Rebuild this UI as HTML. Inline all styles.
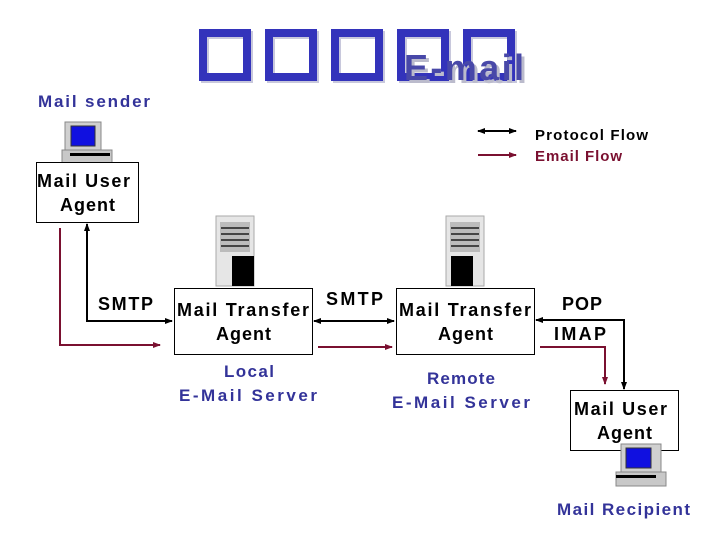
<!DOCTYPE html>
<html><head><meta charset="utf-8"><style>
html,body{margin:0;padding:0;background:#fff;width:720px;height:540px;overflow:hidden}
text{font-family:"Liberation Sans",sans-serif;font-weight:bold}
</style></head><body>
<svg width="720" height="540" viewBox="0 0 720 540" xmlns="http://www.w3.org/2000/svg">
<defs>
<marker id="ab" markerWidth="8" markerHeight="8" refX="7" refY="4" orient="auto-start-reverse" markerUnits="userSpaceOnUse"><path d="M0,1 L8,4 L0,7z" fill="#000"/></marker>
<marker id="ar" markerWidth="8" markerHeight="8" refX="7" refY="4" orient="auto" markerUnits="userSpaceOnUse"><path d="M0,1 L8,4 L0,7z" fill="#7a1030"/></marker>
</defs>
<g fill="none" stroke="#c8c8dc" stroke-width="8">
<rect x="205" y="35" width="44" height="44"/><rect x="271" y="35" width="44" height="44"/><rect x="337" y="35" width="44" height="44"/><rect x="403" y="35" width="44" height="44"/><rect x="469" y="35" width="44" height="44"/>
</g>
<g fill="none" stroke="#3333bb" stroke-width="8">
<rect x="203" y="33" width="44" height="44"/><rect x="269" y="33" width="44" height="44"/><rect x="335" y="33" width="44" height="44"/><rect x="401" y="33" width="44" height="44"/><rect x="467" y="33" width="44" height="44"/>
</g>
<text x="407" y="83" font-family="Liberation Serif" font-weight="bold" font-size="36" fill="#bbbbcc" textLength="120">E-mail</text>
<text x="404" y="80" font-family="Liberation Serif" font-weight="bold" font-size="36" fill="#4848a8" textLength="120">E-mail</text>

<text x="38" y="107" font-size="17" fill="#333399" textLength="112">Mail sender</text>
<line x1="478" y1="131" x2="516" y2="131" stroke="#000" stroke-width="2" marker-end="url(#ab)" marker-start="url(#ab)"/>
<line x1="478" y1="155" x2="516" y2="155" stroke="#7a1030" stroke-width="2" marker-end="url(#ar)"/>
<text x="535" y="140" font-size="15" font-weight="normal" fill="#000" textLength="113">Protocol Flow</text>
<text x="535" y="161" font-size="15" font-weight="normal" fill="#7a1030" textLength="87">Email Flow</text>

<g transform="translate(60,120)">
<rect x="5" y="2" width="36" height="30" fill="#d0d0d0" stroke="#888"/>
<rect x="11" y="6" width="24" height="20" fill="#1010e0" stroke="#333"/>
<rect x="2" y="30" width="50" height="14" fill="#c8c8c8" stroke="#888"/>
<rect x="10" y="33" width="40" height="3" fill="#000"/>
</g>
<rect x="36.5" y="162.5" width="102" height="60" fill="#fff" stroke="#000"/>
<text x="37" y="187" font-size="18" textLength="93">Mail User</text>
<text x="60" y="211" font-size="18" textLength="55">Agent</text>

<g transform="translate(216,216)">
<rect x="0" y="0" width="38" height="70" fill="#e6e6e6" stroke="#aaa"/>
<rect x="4" y="6" width="30" height="30" fill="#bbb"/>
<g stroke="#444" stroke-width="2"><line x1="5" y1="12" x2="33" y2="12"/><line x1="5" y1="18" x2="33" y2="18"/><line x1="5" y1="24" x2="33" y2="24"/><line x1="5" y1="30" x2="33" y2="30"/></g>
<rect x="16" y="40" width="22" height="30" fill="#000"/>
</g>
<g transform="translate(446,216)">
<rect x="0" y="0" width="38" height="70" fill="#e6e6e6" stroke="#aaa"/>
<rect x="4" y="6" width="30" height="30" fill="#bbb"/>
<g stroke="#444" stroke-width="2"><line x1="5" y1="12" x2="33" y2="12"/><line x1="5" y1="18" x2="33" y2="18"/><line x1="5" y1="24" x2="33" y2="24"/><line x1="5" y1="30" x2="33" y2="30"/></g>
<rect x="5" y="40" width="22" height="30" fill="#000"/>
</g>

<rect x="174.5" y="288.5" width="138" height="66" fill="#fff" stroke="#000"/>
<text x="177" y="316" font-size="18" textLength="132">Mail Transfer</text>
<text x="216" y="340" font-size="18" textLength="55">Agent</text>
<rect x="396.5" y="288.5" width="138" height="66" fill="#fff" stroke="#000"/>
<text x="399" y="316" font-size="18" textLength="132">Mail Transfer</text>
<text x="438" y="340" font-size="18" textLength="55">Agent</text>

<text x="98" y="310" font-size="18" textLength="55">SMTP</text>
<text x="326" y="305" font-size="18" textLength="57">SMTP</text>
<text x="562" y="310" font-size="18" textLength="40">POP</text>
<text x="554" y="340" font-size="18" textLength="52">IMAP</text>

<text x="224" y="377" font-size="17" fill="#333399" textLength="50">Local</text>
<text x="179" y="401" font-size="17" fill="#333399" textLength="138">E-Mail Server</text>
<text x="427" y="384" font-size="17" fill="#333399" textLength="68">Remote</text>
<text x="392" y="408" font-size="17" fill="#333399" textLength="138">E-Mail Server</text>

<polyline points="87,224 87,321 172,321" fill="none" stroke="#000" stroke-width="2" marker-start="url(#ab)" marker-end="url(#ab)"/>
<polyline points="60,228 60,345 160,345" fill="none" stroke="#7a1030" stroke-width="2" marker-end="url(#ar)"/>
<line x1="314" y1="321" x2="394" y2="321" stroke="#000" stroke-width="2" marker-start="url(#ab)" marker-end="url(#ab)"/>
<line x1="318" y1="347" x2="392" y2="347" stroke="#7a1030" stroke-width="2" marker-end="url(#ar)"/>
<polyline points="536,320 624,320 624,389" fill="none" stroke="#000" stroke-width="2" marker-start="url(#ab)" marker-end="url(#ab)"/>
<polyline points="540,347 605,347 605,384" fill="none" stroke="#7a1030" stroke-width="2" marker-end="url(#ar)"/>

<rect x="570.5" y="390.5" width="108" height="60" fill="#fff" stroke="#000"/>
<text x="574" y="415" font-size="18" textLength="93">Mail User</text>
<text x="597" y="439" font-size="18" textLength="55">Agent</text>
<g transform="translate(612,444)">
<rect x="9" y="0" width="40" height="30" fill="#d0d0d0" stroke="#888"/>
<rect x="14" y="4" width="25" height="20" fill="#1010e0" stroke="#333"/>
<rect x="4" y="28" width="50" height="14" fill="#c8c8c8" stroke="#888"/>
<rect x="4" y="31" width="40" height="3" fill="#000"/>
</g>
<text x="557" y="515" font-size="17" fill="#333399" textLength="133">Mail Recipient</text>
</svg>
</body></html>
